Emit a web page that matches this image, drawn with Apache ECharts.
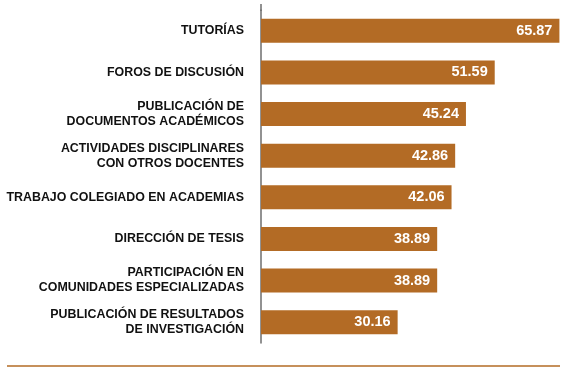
<!DOCTYPE html>
<html>
<head>
<meta charset="utf-8">
<script src="https://cdn.jsdelivr.net/npm/echarts@6/dist/echarts.min.js"></script>
<style>
  html, body { margin: 0; padding: 0; background: #fff; }
  #chart { width: 564px; height: 373px; }
</style>
</head>
<body>
<div id="chart"></div>
<script>
const categories = [
  'TUTORÍAS',
  'FOROS DE DISCUSIÓN',
  'PUBLICACIÓN DE\nDOCUMENTOS ACADÉMICOS',
  'ACTIVIDADES DISCIPLINARES\nCON OTROS DOCENTES',
  'TRABAJO COLEGIADO EN ACADEMIAS',
  'DIRECCIÓN DE TESIS',
  'PARTICIPACIÓN EN\nCOMUNIDADES ESPECIALIZADAS',
  'PUBLICACIÓN DE RESULTADOS\nDE INVESTIGACIÓN'
]
const values = [65.87, 51.59, 45.24, 42.86, 42.06, 38.89, 38.89, 30.16]

const barColor = '#b36b25'

let chart = echarts.init(document.getElementById('chart'))

chart.setOption({
  animation: false,
  grid: { left: 261, right: 4, top: 10, bottom: 30 },
  xAxis: {
    type: 'value',
    min: 0,
    max: 66,
    show: false
  },
  yAxis: {
    type: 'category',
    data: categories,
    inverse: true,
    axisLine: { show: true, lineStyle: { color: '#6e6e6e', width: 1.5 } },
    axisTick: { show: false },
    axisLabel: {
      margin: 17,
      color: '#111',
      fontFamily: 'Liberation Sans',
      fontWeight: 'bold',
      fontSize: 12.4,
      lineHeight: 15,
      align: 'right'
    }
  },
  series: [
    {
      type: 'bar',
      data: values,
      barWidth: 24,
      itemStyle: { color: barColor },
      label: {
        show: true,
        position: 'insideRight',
        distance: 7,
        color: '#fff',
        fontFamily: 'Liberation Sans',
        fontWeight: 'bold',
        fontSize: 14.5,
        formatter: p => p.value.toFixed(2)
      }
    }
  ],
  graphic: [
    {
      type: 'line',
      shape: { x1: 7, y1: 366, x2: 560, y2: 366 },
      style: { stroke: barColor, lineWidth: 1.5 }
    },
    {
      // axis line in the original starts a little above the first band
      type: 'line',
      shape: { x1: 261, y1: 4, x2: 261, y2: 11 },
      style: { stroke: '#6e6e6e', lineWidth: 1.5 }
    }
  ]
})
</script>
</body>
</html>
